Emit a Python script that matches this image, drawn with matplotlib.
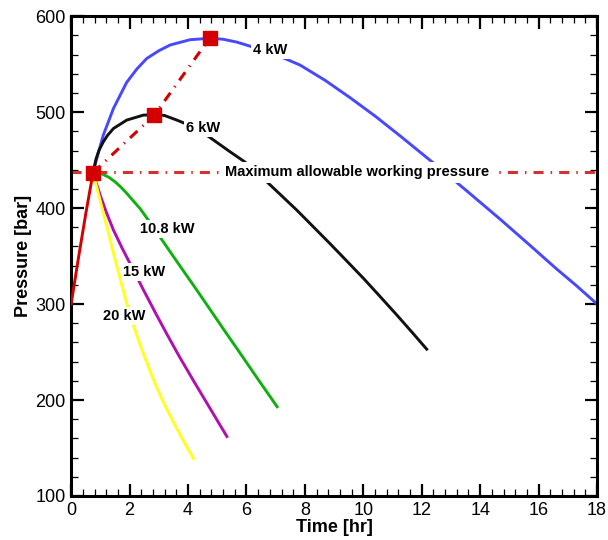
import numpy as np
import matplotlib.pyplot as plt
from matplotlib.ticker import MultipleLocator

plt.rcParams['font.family'] = ['Liberation Sans', 'DejaVu Sans']

# Charging from 300 bar up to the maximum allowable working pressure
t_charge = [0.0, 0.25, 0.5, 0.75]
p_charge = [300, 348, 394, 437]

# Pressure history for each heater power (time in hr, pressure in bar)
t_4kw = [0.75, 0.88, 1.1, 1.45, 1.9, 2.25, 2.59, 3.0, 3.39, 4.07, 4.75, 5.2,
         5.67, 6.1, 7.0, 7.84, 8.7, 9.55, 10.4, 11.27, 12.4, 13.5, 14.7,
         15.6, 16.6, 17.3, 18.0]
p_4kw = [437, 452, 476, 504, 531, 545, 556, 564, 570, 575.5, 577, 576,
         573, 569, 560, 549, 533, 515, 496, 475, 447, 419, 388,
         364, 337, 319, 300]

t_6kw = [0.75, 0.85, 0.95, 1.1, 1.25, 1.45, 1.9, 2.47, 2.9, 3.2, 3.62, 4.0,
         4.64, 5.44, 5.95, 6.7, 7.72, 8.86, 10.0, 10.6, 11.15, 11.7, 12.17]
p_6kw = [437, 451, 460, 469, 476, 483, 491.7, 496.9, 497.5, 496.5, 491.7, 487,
         476, 458.7, 448, 427.4, 398, 363, 327, 307, 288.5, 269.5, 253]

t_108kw = [0.75, 0.9, 1.1, 1.3, 1.5, 1.7, 1.9, 2.1, 2.36, 2.7, 3.05, 3.4,
           3.73, 4.2, 4.64, 5.2, 5.78, 6.4, 7.05]
p_108kw = [437, 437, 435, 432, 427.5, 422, 415.5, 408.5, 399.5, 385, 369.5,
           354, 339.5, 319, 299.5, 274.5, 249, 221.5, 193]

t_15kw = [0.75, 0.85, 1.0, 1.2, 1.45, 1.75, 2.02, 2.47, 2.9, 3.28, 3.7,
          4.19, 4.75, 5.33]
p_15kw = [437, 427, 413, 396, 377, 358, 342, 315, 290, 268.5, 245.5,
          220, 191.5, 162]

t_20kw = [0.75, 0.9, 1.05, 1.22, 1.45, 1.68, 1.9, 2.13, 2.45, 2.82, 3.15,
          3.5, 3.85, 4.19]
p_20kw = [437, 419, 401, 381, 353, 326, 301, 278, 250, 221, 198,
          177, 157, 139]

# Peak points of the curves, joined by a dash-dot line
t_peak = [0.75, 2.85, 4.75]
p_peak = [437, 497, 577.5]

mawp = 437.5

fig, ax = plt.subplots(figsize=(6.08, 5.4), dpi=100)
fig.subplots_adjust(left=0.117, right=0.982, bottom=0.0815, top=0.970)

lw = 2.1
ax.plot(t_charge, p_charge, color='#d40000', lw=lw, zorder=3)
ax.plot(t_4kw, p_4kw, color='#4848ff', lw=lw, zorder=2)
ax.plot(t_6kw, p_6kw, color='#111111', lw=lw, zorder=2)
ax.plot(t_108kw, p_108kw, color='#10b010', lw=lw, zorder=2)
ax.plot(t_15kw, p_15kw, color='#b010b0', lw=lw, zorder=2)
ax.plot(t_20kw, p_20kw, color='#ffff20', lw=lw, zorder=2)

ax.axhline(mawp, color='#d83030', lw=2.2, dashes=(3.3, 2.3, 0.5, 2.3), zorder=2)
ax.plot(t_peak, p_peak, color='#d40000', lw=2.2, dashes=(3.3, 2.3, 0.4, 2.3),
        zorder=3)
ax.plot(t_peak, p_peak, 's', color='#d40000', ms=10.5, zorder=5)

# Curve labels with white boxes that break the lines underneath
box = dict(facecolor='white', edgecolor='none', pad=1.5)
labels = [(6.81, 565, '4 kW'), (4.52, 484, '6 kW'), (3.3, 378, '10.8 kW'),
          (2.51, 333, '15 kW'), (1.83, 287.5, '20 kW')]
for x, y, s in labels:
    ax.text(x, y, s, fontsize=10.5, fontweight='bold', ha='center', va='center',
            bbox=box, zorder=4)
ax.text(9.79, mawp, 'Maximum allowable working pressure', fontsize=10.5,
        fontweight='bold', ha='center', va='center',
        bbox=dict(facecolor='white', edgecolor='none', pad=2.5), zorder=4)

ax.set_xlim(0, 18)
ax.set_ylim(100, 600)
ax.xaxis.set_major_locator(MultipleLocator(2))
ax.xaxis.set_minor_locator(MultipleLocator(0.4))
ax.yaxis.set_major_locator(MultipleLocator(100))
ax.yaxis.set_minor_locator(MultipleLocator(20))
ax.tick_params(which='both', direction='in', top=True, right=True)
ax.tick_params(which='major', length=9, width=1.6, labelsize=13, pad=4)
ax.tick_params(which='minor', length=5, width=0.9)
for sp in ax.spines.values():
    sp.set_linewidth(2.2)

ax.set_xlabel('Time [hr]', fontsize=13, fontweight='bold', labelpad=0)
ax.set_ylabel('Pressure [bar]', fontsize=13, fontweight='bold', labelpad=2)

fig.savefig('out.png', dpi=100)
